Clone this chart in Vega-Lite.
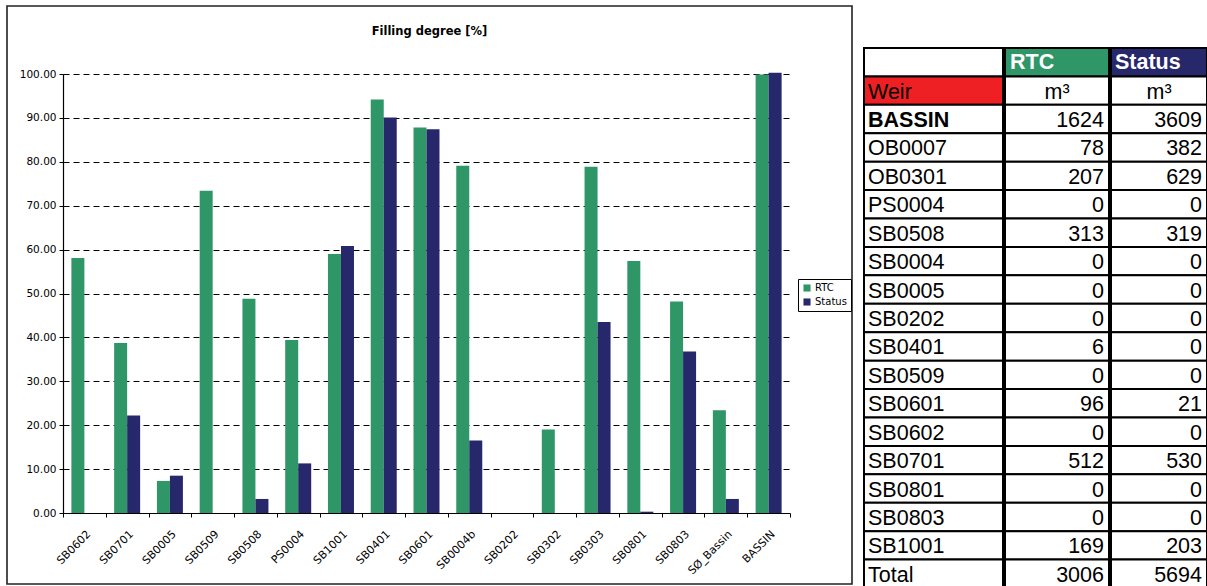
{
  "$schema": "https://vega.github.io/schema/vega-lite/v6.json",
  "background": "white",
  "padding": {"left": 6, "top": 5, "right": 0, "bottom": 0},
  "datasets": {
    "bars": [
      {"weir": "SB0602", "series": "RTC", "value": 58.1}, {"weir": "SB0602", "series": "Status", "value": 0},
      {"weir": "SB0701", "series": "RTC", "value": 38.7}, {"weir": "SB0701", "series": "Status", "value": 22.2},
      {"weir": "SB0005", "series": "RTC", "value": 7.3}, {"weir": "SB0005", "series": "Status", "value": 8.5},
      {"weir": "SB0509", "series": "RTC", "value": 73.4}, {"weir": "SB0509", "series": "Status", "value": 0},
      {"weir": "SB0508", "series": "RTC", "value": 48.8}, {"weir": "SB0508", "series": "Status", "value": 3.2},
      {"weir": "PS0004", "series": "RTC", "value": 39.4}, {"weir": "PS0004", "series": "Status", "value": 11.3},
      {"weir": "SB1001", "series": "RTC", "value": 59.0}, {"weir": "SB1001", "series": "Status", "value": 60.8},
      {"weir": "SB0401", "series": "RTC", "value": 94.2}, {"weir": "SB0401", "series": "Status", "value": 90.1},
      {"weir": "SB0601", "series": "RTC", "value": 87.8}, {"weir": "SB0601", "series": "Status", "value": 87.4},
      {"weir": "SB0004b", "series": "RTC", "value": 79.1}, {"weir": "SB0004b", "series": "Status", "value": 16.5},
      {"weir": "SB0202", "series": "RTC", "value": 0}, {"weir": "SB0202", "series": "Status", "value": 0},
      {"weir": "SB0302", "series": "RTC", "value": 19.0}, {"weir": "SB0302", "series": "Status", "value": 0},
      {"weir": "SB0303", "series": "RTC", "value": 78.9}, {"weir": "SB0303", "series": "Status", "value": 43.5},
      {"weir": "SB0801", "series": "RTC", "value": 57.4}, {"weir": "SB0801", "series": "Status", "value": 0.3},
      {"weir": "SB0803", "series": "RTC", "value": 48.2}, {"weir": "SB0803", "series": "Status", "value": 36.8},
      {"weir": "SØ_Bassin", "series": "RTC", "value": 23.4}, {"weir": "SØ_Bassin", "series": "Status", "value": 3.2},
      {"weir": "BASSIN", "series": "RTC", "value": 99.9}, {"weir": "BASSIN", "series": "Status", "value": 100.3}
    ],
    "table": [
      {"row": "h1", "label": "", "rtc": "RTC", "status": "Status"},
      {"row": "h2", "label": "Weir", "rtc": "m³", "status": "m³"},
      {"row": "BASSIN", "label": "BASSIN", "rtc": 1624, "status": 3609},
      {"row": "OB0007", "label": "OB0007", "rtc": 78, "status": 382},
      {"row": "OB0301", "label": "OB0301", "rtc": 207, "status": 629},
      {"row": "PS0004", "label": "PS0004", "rtc": 0, "status": 0},
      {"row": "SB0508", "label": "SB0508", "rtc": 313, "status": 319},
      {"row": "SB0004", "label": "SB0004", "rtc": 0, "status": 0},
      {"row": "SB0005", "label": "SB0005", "rtc": 0, "status": 0},
      {"row": "SB0202", "label": "SB0202", "rtc": 0, "status": 0},
      {"row": "SB0401", "label": "SB0401", "rtc": 6, "status": 0},
      {"row": "SB0509", "label": "SB0509", "rtc": 0, "status": 0},
      {"row": "SB0601", "label": "SB0601", "rtc": 96, "status": 21},
      {"row": "SB0602", "label": "SB0602", "rtc": 0, "status": 0},
      {"row": "SB0701", "label": "SB0701", "rtc": 512, "status": 530},
      {"row": "SB0801", "label": "SB0801", "rtc": 0, "status": 0},
      {"row": "SB0803", "label": "SB0803", "rtc": 0, "status": 0},
      {"row": "SB1001", "label": "SB1001", "rtc": 169, "status": 203},
      {"row": "Total", "label": "Total", "rtc": 3006, "status": 5694}
    ]
  },
  "spacing": 10,
  "hconcat": [
    {
      "width": 845,
      "height": 578,
      "view": {"stroke": "#222222", "strokeWidth": 1.6},
      "title": {"text": "Filling degree [%]", "offset": -31, "fontSize": 11.5, "font": "DejaVu Sans", "fontWeight": "bold", "color": "black"},
      "data": {"name": "bars"},
      "mark": {"type": "bar"},
      "encoding": {
        "x": {
          "field": "weir", "type": "nominal", "sort": null,
          "scale": {"range": [56, 783], "paddingInner": 0, "paddingOuter": 0},
          "axis": {
            "orient": "bottom", "offset": -71, "title": null, "tickBand": "extent",
            "labelAngle": -45,
            "labelFont": "DejaVu Sans", "labelFontSize": 11, "labelColor": "black",
            "tickSize": 4, "tickColor": "black", "domainColor": "black", "domainWidth": 1.2, "labelPadding": 11
          }
        },
        "xOffset": {"field": "series", "sort": ["RTC", "Status"], "scale": {"paddingInner": 0, "paddingOuter": 0.645}},
        "y": {
          "field": "value", "type": "quantitative",
          "scale": {"domain": [0, 100], "range": [507, 68], "nice": false},
          "axis": {
            "orient": "left", "offset": -56, "title": null, "values": [0, 10, 20, 30, 40, 50, 60, 70, 80, 90, 100],
            "format": ".2f", "labelFont": "DejaVu Sans", "labelFontSize": 10.5, "labelColor": "black",
            "tickSize": 4, "tickColor": "black", "domainColor": "black", "domainWidth": 1.2, "labelPadding": 3,
            "grid": true, "gridColor": "black", "gridDash": [6, 4], "gridWidth": 1
          }
        },
        "color": {
          "field": "series", "type": "nominal",
          "scale": {"domain": ["RTC", "Status"], "range": ["#2F9667", "#27286C"]},
          "legend": {
            "orient": "none", "legendX": 791, "legendY": 273, "title": null,
            "strokeColor": "black", "fillColor": "white", "padding": 4,
            "symbolType": "square", "symbolSize": 50, "symbolStrokeWidth": 0,
            "labelFont": "DejaVu Sans", "labelFontSize": 10, "labelColor": "black", "rowPadding": 4, "labelOffset": 3
          }
        }
      }
    },
    {
      "spacing": 0,
      "hconcat": [
        {
          "width": 139, "height": 582,
          "view": {"stroke": null},
          "data": {"name": "table"},
          "encoding": {
            "y": {"field": "row", "type": "nominal", "sort": null, "scale": {"range": [42, 582], "paddingInner": 0, "paddingOuter": 0}, "axis": null}
          },
          "layer": [
            {
              "mark": {"type": "rect", "stroke": "black", "strokeWidth": 2},
              "encoding": {"fill": {"condition": {"test": "datum.row === 'h2'", "value": "#EE2024"}, "value": "white"}}
            },
            {
              "transform": [{"filter": "datum.row !== 'BASSIN'"}],
              "mark": {"type": "text", "align": "left", "baseline": "middle", "dx": 4, "dy": 2, "font": "Liberation Sans", "fontSize": 21.5, "color": "black"},
              "encoding": {"x": {"datum": 0, "type": "quantitative", "scale": {"domain": [0, 1]}, "axis": null}, "text": {"field": "label"}}
            },
            {
              "transform": [{"filter": "datum.row === 'BASSIN'"}],
              "mark": {"type": "text", "align": "left", "baseline": "middle", "dx": 4, "dy": 2, "font": "Liberation Sans", "fontSize": 21.5, "fontWeight": "bold", "color": "black"},
              "encoding": {"x": {"datum": 0, "type": "quantitative", "scale": {"domain": [0, 1]}, "axis": null}, "text": {"field": "label"}}
            }
          ]
        },
        {
          "width": 104, "height": 582,
          "view": {"stroke": null},
          "data": {"name": "table"},
          "encoding": {
            "y": {"field": "row", "type": "nominal", "sort": null, "scale": {"range": [42, 582], "paddingInner": 0, "paddingOuter": 0}, "axis": null}
          },
          "layer": [
            {
              "mark": {"type": "rect", "stroke": "black", "strokeWidth": 2},
              "encoding": {"fill": {"condition": {"test": "datum.row === 'h1'", "value": "#2F9667"}, "value": "white"}}
            },
            {
              "transform": [{"filter": "datum.row === 'h1'"}],
              "mark": {"type": "text", "align": "left", "baseline": "middle", "dx": 5, "dy": 1, "font": "Liberation Sans", "fontSize": 21.5, "fontWeight": "bold", "color": "white"},
              "encoding": {"x": {"datum": 0, "type": "quantitative", "scale": {"domain": [0, 1]}, "axis": null}, "text": {"field": "rtc"}}
            },
            {
              "transform": [{"filter": "datum.row === 'h2'"}],
              "mark": {"type": "text", "align": "center", "baseline": "middle", "dy": 2, "font": "Liberation Sans", "fontSize": 21.5, "color": "black"},
              "encoding": {"x": {"datum": 0.5, "type": "quantitative", "scale": {"domain": [0, 1]}, "axis": null}, "text": {"field": "rtc"}}
            },
            {
              "transform": [{"filter": "datum.row !== 'h1' && datum.row !== 'h2'"}],
              "mark": {"type": "text", "align": "right", "baseline": "middle", "dx": -5, "dy": 2, "font": "Liberation Sans", "fontSize": 21.5, "color": "black"},
              "encoding": {"x": {"datum": 1, "type": "quantitative", "scale": {"domain": [0, 1]}, "axis": null}, "text": {"field": "rtc"}}
            }
          ]
        },
        {
          "width": 96, "height": 582,
          "view": {"stroke": null},
          "data": {"name": "table"},
          "encoding": {
            "y": {"field": "row", "type": "nominal", "sort": null, "scale": {"range": [42, 582], "paddingInner": 0, "paddingOuter": 0}, "axis": null}
          },
          "layer": [
            {
              "mark": {"type": "rect", "stroke": "black", "strokeWidth": 2},
              "encoding": {"fill": {"condition": {"test": "datum.row === 'h1'", "value": "#27286C"}, "value": "white"}}
            },
            {
              "transform": [{"filter": "datum.row === 'h1'"}],
              "mark": {"type": "text", "align": "left", "baseline": "middle", "dx": 4, "dy": 1, "font": "Liberation Sans", "fontSize": 21.5, "fontWeight": "bold", "color": "white"},
              "encoding": {"x": {"datum": 0, "type": "quantitative", "scale": {"domain": [0, 1]}, "axis": null}, "text": {"field": "status"}}
            },
            {
              "transform": [{"filter": "datum.row === 'h2'"}],
              "mark": {"type": "text", "align": "center", "baseline": "middle", "dy": 2, "font": "Liberation Sans", "fontSize": 21.5, "color": "black"},
              "encoding": {"x": {"datum": 0.5, "type": "quantitative", "scale": {"domain": [0, 1]}, "axis": null}, "text": {"field": "status"}}
            },
            {
              "transform": [{"filter": "datum.row !== 'h1' && datum.row !== 'h2'"}],
              "mark": {"type": "text", "align": "right", "baseline": "middle", "dx": -5, "dy": 2, "font": "Liberation Sans", "fontSize": 21.5, "color": "black"},
              "encoding": {"x": {"datum": 1, "type": "quantitative", "scale": {"domain": [0, 1]}, "axis": null}, "text": {"field": "status"}}
            }
          ]
        }
      ]
    }
  ]
}
